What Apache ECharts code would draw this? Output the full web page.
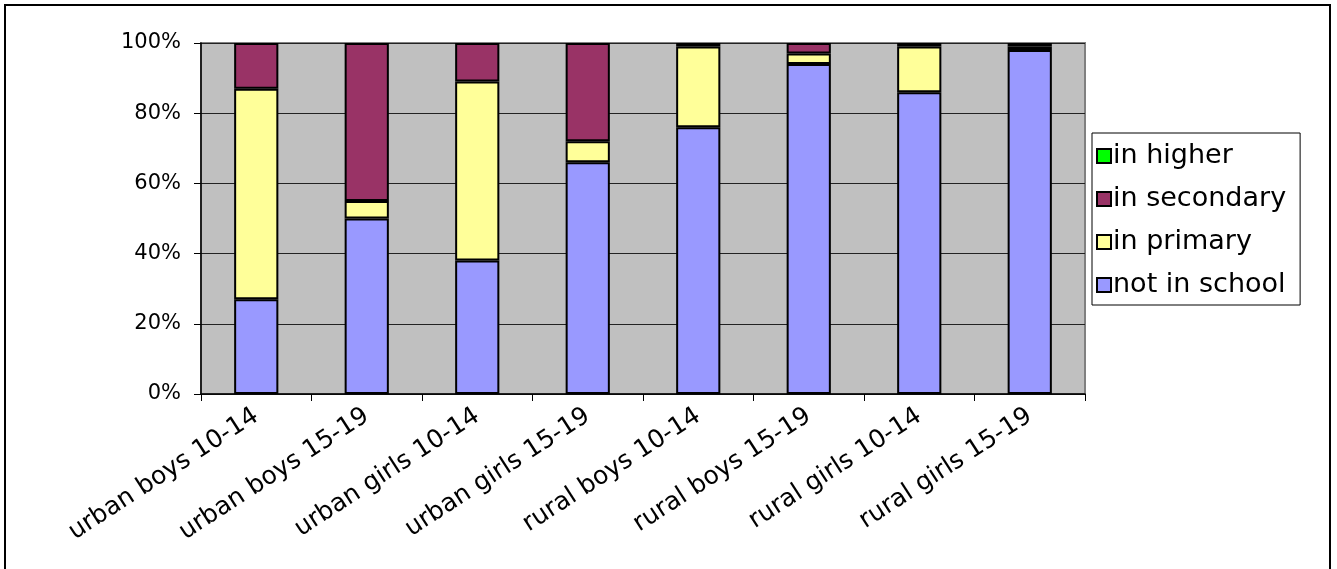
<!DOCTYPE html>
<html>
<head>
<meta charset="utf-8">
<script src="https://cdn.jsdelivr.net/npm/echarts@6/dist/echarts.min.js"></script>
<style>
html,body{margin:0;padding:0;background:#fff;overflow:hidden;}
#frame{position:absolute;left:4px;top:4px;width:1327px;height:600px;border:2px solid #000;box-sizing:border-box;}
#chart{position:absolute;left:0;top:0;width:1337px;height:569px;}
</style>
</head>
<body>
<div id="frame"></div>
<div id="chart"></div>
<script>
const categories = ['urban boys 10-14','urban boys 15-19','urban girls 10-14','urban girls 15-19','rural boys 10-14','rural boys 15-19','rural girls 10-14','rural girls 15-19'];
const notInSchool = [27, 50, 38, 66, 76, 94, 86, 98];
const inPrimary   = [60, 5, 51, 6, 23, 3, 13, 1];
const inSecondary = [13, 45, 11, 28, 1, 3, 1, 1];
const inHigher    = [0, 0, 0, 0, 0, 0, 0, 0];
const yTicks = [0, 20, 40, 60, 80, 100];

const font = 'DejaVu Sans';
const chart = echarts.init(document.getElementById('chart'));
function mk(name, data, color){
  return {name, type:'bar', stack:'s', data: data.map(v => v === 0 ? null : v), barCategoryGap:'60%',
    itemStyle:{color, borderColor:'#000', borderWidth:2}};
}
chart.setOption({
  animation:false,
  textStyle:{fontFamily:font},
  grid:{left:201, right:252, top:43, bottom:175, show:true, backgroundColor:'#C0C0C0', borderColor:'#808080', borderWidth:2},
  legend:{
    orient:'vertical', left:1092, top:133,
    data:['in higher','in secondary','in primary','not in school'],
    backgroundColor:'#fff', borderColor:'#000', borderWidth:1,
    padding:[8,14,5,4], itemGap:13, itemWidth:14, itemHeight:14,
    icon:'rect',
    itemStyle:{borderColor:'#000', borderWidth:2},
    textStyle:{fontFamily:font, fontSize:27, color:'#000', padding:[0,0,0,-3], lineHeight:30}
  },
  xAxis:{type:'category', data:categories,
    axisLine:{lineStyle:{color:'#000', width:1.5}},
    axisTick:{show:true, length:7, lineStyle:{color:'#000'}},
    axisLabel:{rotate:33, fontSize:25, color:'#000', fontFamily:font, margin:20}
  },
  yAxis:{type:'value', min:yTicks[0], max:yTicks[yTicks.length-1], interval:20,
    axisLine:{show:true, lineStyle:{color:'#000', width:1.5}},
    axisTick:{show:true, length:7, lineStyle:{color:'#000'}},
    axisLabel:{formatter:'{value}%', fontSize:21, color:'#000', fontFamily:font, margin:20},
    splitLine:{lineStyle:{color:'#222', width:1}}
  },
  series:[
    mk('not in school', notInSchool, '#9999FF'),
    mk('in primary', inPrimary, '#FFFF99'),
    mk('in secondary', inSecondary, '#993366'),
    mk('in higher', inHigher, '#00FF00')
  ]
});
</script>
</body>
</html>
